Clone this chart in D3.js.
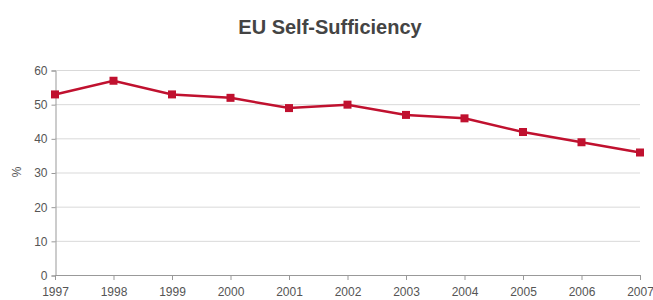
<!DOCTYPE html>
<html>
<head>
<meta charset="utf-8">
<script src="https://d3js.org/d3.v7.min.js"></script>
<style>
  body { margin: 0; background: #fff; }
  svg text { font-family: "Liberation Sans", Arial, sans-serif; }
</style>
</head>
<body>
<svg width="653" height="300"></svg>
<script>
// chart data
var years = ["1997", "1998", "1999", "2000", "2001", "2002", "2003", "2004", "2005", "2006", "2007"];
var selfSufficiency = [53, 57, 53, 52, 49, 50, 47, 46, 42, 39, 36];
var yTicks = [0, 10, 20, 30, 40, 50, 60];

var svg = d3.select("svg");
var plotLeft = 55, plotRight = 640, plotTop = 70.5, plotBottom = 275.5;

var x = d3.scalePoint().domain(years).range([plotLeft, plotRight]);
var y = d3.scaleLinear().domain([0, 60]).range([plotBottom, plotTop]);

// gridlines
svg.append("g")
  .selectAll("line")
  .data(yTicks.filter(function (d) { return d > 0; }))
  .enter()
  .append("line")
  .attr("x1", plotLeft)
  .attr("x2", plotRight)
  .attr("y1", function (d) { return y(d); })
  .attr("y2", function (d) { return y(d); })
  .attr("stroke", "#d9d9d9")
  .attr("stroke-width", 1);

// y axis
var yAxis = svg.append("g")
  .attr("transform", "translate(" + (plotLeft + 0.5) + ",0)")
  .call(d3.axisLeft(y).tickValues(yTicks).tickSize(4).tickPadding(4));
yAxis.select(".domain").attr("stroke", "#999");
yAxis.selectAll(".tick line").attr("stroke", "#999");
yAxis.selectAll("text").attr("fill", "#555").style("font-size", "12px");

// x axis
var xAxis = svg.append("g")
  .attr("transform", "translate(0," + (plotBottom - 0.5) + ")")
  .call(d3.axisBottom(x).tickSize(5).tickPadding(7));
xAxis.select(".domain").attr("stroke", "#999");
xAxis.selectAll(".tick line").attr("stroke", "#999");
xAxis.selectAll("text").attr("fill", "#555").style("font-size", "12px");

// line
var data = years.map(function (yr, i) { return { year: yr, value: selfSufficiency[i] }; });
svg.append("path")
  .datum(data)
  .attr("fill", "none")
  .attr("stroke", "#c0112f")
  .attr("stroke-width", 2.5)
  .attr("d", d3.line()
    .x(function (d) { return x(d.year); })
    .y(function (d) { return y(d.value); }));

svg.append("g")
  .selectAll("rect")
  .data(data)
  .enter()
  .append("rect")
  .attr("x", function (d) { return x(d.year) - 4; })
  .attr("y", function (d) { return y(d.value) - 4; })
  .attr("width", 8)
  .attr("height", 8)
  .attr("fill", "#c0112f");

// title
svg.append("text")
  .attr("x", 330)
  .attr("y", 34)
  .attr("text-anchor", "middle")
  .attr("fill", "#444")
  .style("font-size", "20px")
  .style("font-weight", "bold")
  .text("EU Self-Sufficiency");

// y label
svg.append("text")
  .attr("transform", "translate(21,172) rotate(-90)")
  .attr("text-anchor", "middle")
  .attr("fill", "#555")
  .style("font-size", "12px")
  .text("%");
</script>
</body>
</html>
